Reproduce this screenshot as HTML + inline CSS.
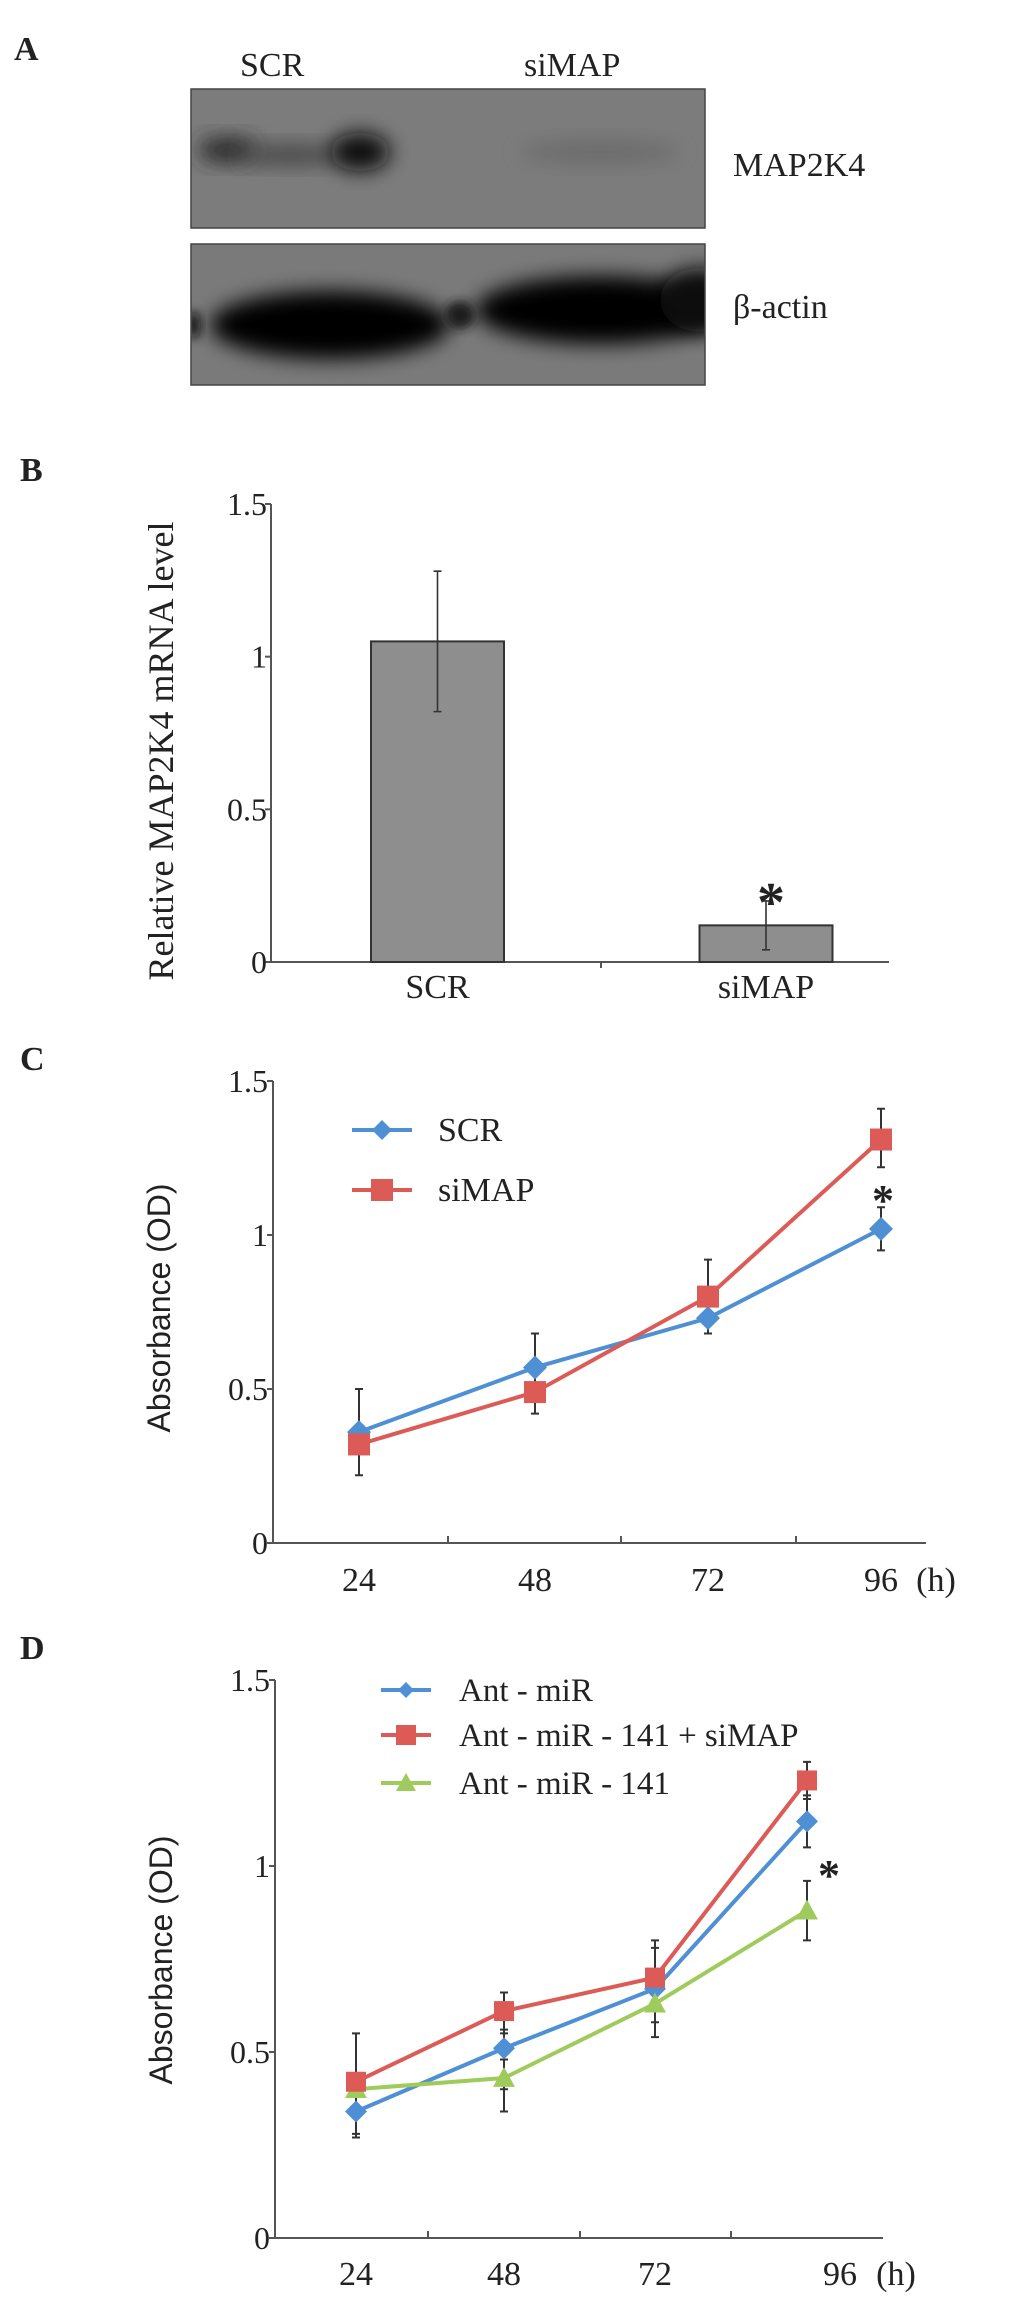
<!DOCTYPE html>
<html><head><meta charset="utf-8">
<style>
html,body{margin:0;padding:0;background:#fff;}
svg text{font-family:"Liberation Serif",serif;fill:#222;}
.sans{font-family:"Liberation Sans",sans-serif !important;}
</style></head>
<body>
<svg id="fig" width="1033" height="2298" viewBox="0 0 1033 2298" xmlns="http://www.w3.org/2000/svg">
<defs>
<filter id="blur8" x="-50%" y="-50%" width="200%" height="200%"><feGaussianBlur stdDeviation="10"/></filter>
<filter id="blur4" x="-50%" y="-50%" width="200%" height="200%"><feGaussianBlur stdDeviation="5"/></filter>
<clipPath id="c1"><rect x="191" y="89" width="514" height="139"/></clipPath>
<clipPath id="c2"><rect x="191" y="244" width="514" height="141"/></clipPath>
</defs>

<!-- Panel A -->
<g>
<text x="14" y="60" font-size="34" font-weight="bold">A</text>
<text x="240" y="76" font-size="34">SCR</text>
<text x="524" y="76" font-size="34">siMAP</text>
<g clip-path="url(#c1)">
<rect x="191" y="89" width="514" height="139" fill="#7c7c7c"/>
<ellipse cx="228" cy="150" rx="30" ry="13" fill="#2a2a2a" filter="url(#blur8)"/>
<ellipse cx="290" cy="155" rx="50" ry="11" fill="#4a4a4a" filter="url(#blur8)"/>
<ellipse cx="360" cy="152" rx="30" ry="19" fill="#0e0e0e" filter="url(#blur8)"/>
<ellipse cx="600" cy="152" rx="80" ry="12" fill="#6c6c6c" filter="url(#blur8)"/>
</g>
<rect x="191" y="89" width="514" height="139" fill="none" stroke="#444" stroke-width="1.5"/>
<g clip-path="url(#c2)">
<rect x="191" y="244" width="514" height="141" fill="#7a7a7a"/>
<ellipse cx="330" cy="325" rx="120" ry="34" fill="#050505" filter="url(#blur8)"/>
<ellipse cx="600" cy="310" rx="125" ry="34" fill="#050505" filter="url(#blur8)"/>
<ellipse cx="700" cy="300" rx="40" ry="32" fill="#080808" filter="url(#blur8)"/>
<ellipse cx="460" cy="315" rx="15" ry="14" fill="#1a1a1a" filter="url(#blur4)"/>
<ellipse cx="194" cy="325" rx="6" ry="14" fill="#111" filter="url(#blur4)"/>
</g>
<rect x="191" y="244" width="514" height="141" fill="none" stroke="#444" stroke-width="1.5"/>
<text x="733" y="176" font-size="34">MAP2K4</text>
<text x="733" y="318" font-size="34">β-actin</text>
</g>

<!-- Panel B -->
<g id="panelB">
<text x="20" y="481" font-size="34" font-weight="bold">B</text>
<text transform="translate(173,751) rotate(-90)" text-anchor="middle" font-size="36">Relative MAP2K4 mRNA level</text>
</g>

<!-- Panel C -->
<g id="panelC">
<text x="20" y="1070" font-size="34" font-weight="bold">C</text>
<text class="sans" transform="translate(170,1308) rotate(-90)" text-anchor="middle" font-size="32">Absorbance (OD)</text>
</g>

<!-- Panel D -->
<g id="panelD">
<text x="20" y="1659" font-size="34" font-weight="bold">D</text>
<text class="sans" transform="translate(172,1960) rotate(-90)" text-anchor="middle" font-size="32">Absorbance (OD)</text>
</g>
</svg>

<script>
// ===== Panel B data =====
const bCategories = ["SCR", "siMAP"];
const bValues = [1.05, 0.12];
const bErrHigh = [1.28, 0.20];
const bErrLow = [0.82, 0.04];
const bTicks = [0, 0.5, 1, 1.5];
const bTickLabels = ["0", "0.5", "1", "1.5"];

// ===== Panel C data =====
const cCategories = ["24", "48", "72", "96"];
const cScr = [0.36, 0.57, 0.73, 1.02];
const cScrHigh = [0.50, 0.68, 0.75, 1.09];
const cScrLow = [0.30, 0.52, 0.68, 0.95];
const cSimap = [0.32, 0.49, 0.80, 1.31];
const cSimapHigh = [0.35, 0.52, 0.92, 1.41];
const cSimapLow = [0.22, 0.42, 0.75, 1.22];
const cTicks = [0, 0.5, 1, 1.5];
const cTickLabels = ["0", "0.5", "1", "1.5"];

// ===== Panel D data =====
const dCategories = ["24", "48", "72", "96"];
const dAnt = [0.34, 0.51, 0.67, 1.12];
const dAntHigh = [0.38, 0.56, 0.78, 1.19];
const dAntLow = [0.27, 0.40, 0.58, 1.05];
const dAntSi = [0.42, 0.61, 0.70, 1.23];
const dAntSiHigh = [0.55, 0.66, 0.80, 1.28];
const dAntSiLow = [0.38, 0.55, 0.63, 1.18];
const dAnt141 = [0.40, 0.43, 0.63, 0.88];
const dAnt141High = [0.44, 0.48, 0.70, 0.96];
const dAnt141Low = [0.28, 0.34, 0.54, 0.80];
const dTicks = [0, 0.5, 1, 1.5];
const dTickLabels = ["0", "0.5", "1", "1.5"];

const NS = "http://www.w3.org/2000/svg";
function mk(parent, tag, attrs, text) {
  const e = document.createElementNS(NS, tag);
  for (const k in attrs) e.setAttribute(k, attrs[k]);
  if (text !== undefined) e.textContent = text;
  parent.appendChild(e);
  return e;
}
const BLUE = "#4f8fd3", RED = "#dc5b57", GREEN = "#9fcb5c";
const TFS = 32;

// ---------- Panel B ----------
(function () {
  const g = document.getElementById("panelB");
  const x0 = 271, x1 = 889, yB = 962, yT = 504;
  const ys = v => yB - (v / 1.5) * (yB - yT);
  const xcs = [437.5, 766];
  const ax = mk(g, "path", { d: `M${x0} ${yT}V${yB}H${x1}M601 ${yB}v6`, stroke: "#555", "stroke-width": 2, fill: "none" });
  
  
  bTicks.forEach((t, i) => {
    const tk = mk(g, "line", { x1: x0 - 6, x2: x0, y1: ys(t), y2: ys(t), stroke: "#555", "stroke-width": 2 });
    
    
    const tl = mk(g, "text", { x: x0 - 4, y: ys(t) + 11, "text-anchor": "end", "font-size": TFS }, bTickLabels[i]);
    
    
  });
  bCategories.forEach((c, i) => {
    const w = 133, xc = xcs[i];
    const r = mk(g, "rect", { x: xc - w / 2, y: ys(bValues[i]), width: w, height: yB - ys(bValues[i]), fill: "#8e8e8e", stroke: "#333", "stroke-width": 2 });
    
    
    const e = mk(g, "path", { d: `M${xc} ${ys(bErrHigh[i])}V${ys(bErrLow[i])}M${xc - 4} ${ys(bErrHigh[i])}h8M${xc - 4} ${ys(bErrLow[i])}h8`, stroke: "#333", "stroke-width": 1.6, fill: "none" });
    
    
    const l = mk(g, "text", { x: xc, y: yB + 36, "text-anchor": "middle", "font-size": 34 }, c);
    
    
  });
  const s = mk(g, "text", { x: xcs[1] + 5, y: ys(bErrHigh[1]) + 20, "text-anchor": "middle", "font-size": 56, "font-family": "Liberation Sans, sans-serif", "font-weight": "bold" }, "*");
  
  
})();

// ---------- Line chart helper ----------
function lineChart(g, cfg) {
  const { x0, x1, yB, yT, xs, ticks, tickLabels, cats, tickXs, labelXs, labelY, series, hX, name } = cfg;
  const ys = v => yB - (v / 1.5) * (yB - yT);
  const ax = mk(g, "path", { d: `M${x0} ${yT}V${yB}H${x1}`, stroke: "#555", "stroke-width": 2, fill: "none" });
  
  
  ticks.forEach((t, i) => {
    const tk = mk(g, "line", { x1: x0 - 6, x2: x0, y1: ys(t), y2: ys(t), stroke: "#555", "stroke-width": 2 });
    
    
    const tl = mk(g, "text", { x: x0 - 5, y: ys(t) + 11, "text-anchor": "end", "font-size": TFS }, tickLabels[i]);
    
    
  });
  tickXs.forEach(tx => {
    const tk = mk(g, "line", { x1: tx, x2: tx, y1: yB, y2: yB - 7, stroke: "#555", "stroke-width": 2 });
    
    
  });
  cats.forEach((c, i) => {
    const l = mk(g, "text", { x: labelXs[i], y: labelY, "text-anchor": "middle", "font-size": 34 }, c);
    
    
  });
  const h = mk(g, "text", { x: hX, y: labelY, "text-anchor": "middle", "font-size": 34 }, "(h)");
  
  
  series.forEach(s => {
    s.hi.forEach((v, i) => {
      const e = mk(g, "path", { d: `M${xs[i]} ${ys(v)}V${ys(s.lo[i])}M${xs[i] - 4} ${ys(v)}h8M${xs[i] - 4} ${ys(s.lo[i])}h8`, stroke: "#333", "stroke-width": 2, fill: "none" });
      
      
    });
  });
  series.forEach(s => {
    const pts = s.vals.map((v, i) => xs[i] + "," + ys(v)).join(" ");
    const pl = mk(g, "polyline", { points: pts, fill: "none", stroke: s.color, "stroke-width": 4 });
    
    
    s.vals.forEach((v, i) => {
      const m = marker(g, s.shape, xs[i], ys(v), s.color, s.ms);
      
      
    });
  });
  return ys;
}
function marker(g, shape, x, y, color, sz) {
  if (shape === "square") return mk(g, "rect", { x: x - sz, y: y - sz, width: 2 * sz, height: 2 * sz, fill: color });
  if (shape === "diamond") return mk(g, "polygon", { points: `${x},${y - sz} ${x + sz},${y} ${x},${y + sz} ${x - sz},${y}`, fill: color });
  return mk(g, "polygon", { points: `${x},${y - sz} ${x + sz},${y + sz * 0.8} ${x - sz},${y + sz * 0.8}`, fill: color });
}
function legend(g, items, lx0, lx1, tx, fs, name) {
  items.forEach(it => {
    const ln = mk(g, "line", { x1: lx0, x2: lx1, y1: it.y, y2: it.y, stroke: it.color, "stroke-width": 4 });
    
    
    const m = marker(g, it.shape, (lx0 + lx1) / 2, it.y, it.color, it.ms);
    
    
    const t = mk(g, "text", { x: tx, y: it.y + 11, "font-size": fs }, it.label);
    
    
  });
}

// ---------- Panel C ----------
(function () {
  const g = document.getElementById("panelC");
  const xs = [359, 535, 708, 881];
  const ys = lineChart(g, {
    name: "c", x0: 273, x1: 926, yB: 1543, yT: 1081, xs,
    ticks: cTicks, tickLabels: cTickLabels, cats: cCategories,
    tickXs: [448, 621, 796], labelXs: [359, 535, 708, 881], labelY: 1591, hX: 936,
    series: [
      { key: "scr", vals: cScr, hi: cScrHigh, lo: cScrLow, color: BLUE, shape: "diamond", ms: 12 },
      { key: "simap", vals: cSimap, hi: cSimapHigh, lo: cSimapLow, color: RED, shape: "square", ms: 11 }
    ]
  });
  legend(g, [
    { y: 1130, color: BLUE, shape: "diamond", ms: 10, label: "SCR" },
    { y: 1190, color: RED, shape: "square", ms: 11, label: "siMAP" }
  ], 352, 412, 438, 34, "c");
  const s = mk(g, "text", { x: 883, y: 1215, "text-anchor": "middle", "font-size": 44, "font-family": "Liberation Sans, sans-serif", "font-weight": "bold" }, "*");
  
  
})();

// ---------- Panel D ----------
(function () {
  const g = document.getElementById("panelD");
  const xs = [356, 504, 655, 807];
  const ys = lineChart(g, {
    name: "d", x0: 275, x1: 883, yB: 2238, yT: 1680, xs,
    ticks: dTicks, tickLabels: dTickLabels, cats: dCategories,
    tickXs: [428, 580, 731], labelXs: [356, 504, 655, 840], labelY: 2285, hX: 896,
    series: [
      { key: "ant-mir", vals: dAnt, hi: dAntHigh, lo: dAntLow, color: BLUE, shape: "diamond", ms: 11 },
      { key: "ant-mir-141", vals: dAnt141, hi: dAnt141High, lo: dAnt141Low, color: GREEN, shape: "triangle", ms: 11 },
      { key: "ant-mir-141-simap", vals: dAntSi, hi: dAntSiHigh, lo: dAntSiLow, color: RED, shape: "square", ms: 10 }
    ]
  });
  legend(g, [
    { y: 1690, color: BLUE, shape: "diamond", ms: 8, label: "Ant - miR" },
    { y: 1735, color: RED, shape: "square", ms: 10, label: "Ant - miR - 141 + siMAP" },
    { y: 1783, color: GREEN, shape: "triangle", ms: 10, label: "Ant - miR - 141" }
  ], 381, 431, 459, 33, "d");
  const s = mk(g, "text", { x: 829, y: 1890, "text-anchor": "middle", "font-size": 44, "font-family": "Liberation Sans, sans-serif", "font-weight": "bold" }, "*");
  
  
})();
</script>
</body></html>
